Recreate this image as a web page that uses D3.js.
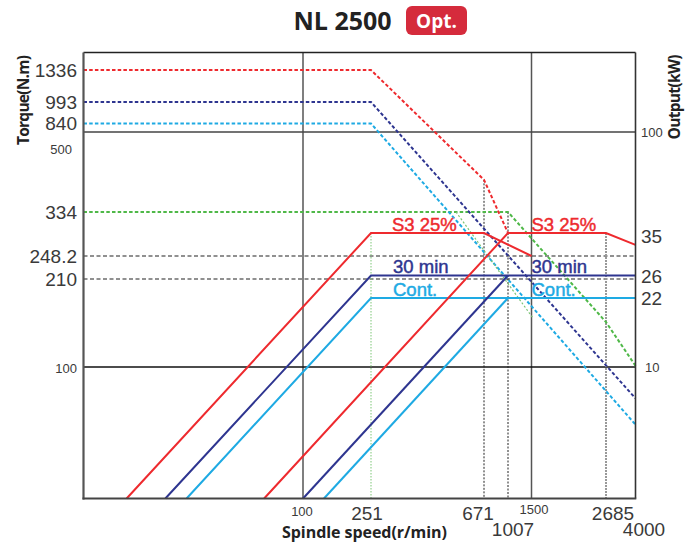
<!DOCTYPE html>
<html><head><meta charset="utf-8">
<script src="https://cdn.jsdelivr.net/npm/d3@7"></script>
<style>body{margin:0;background:#fff} svg{display:block}</style>
</head><body><svg id="c" width="696" height="542"></svg>
<script>
// ---------------- data ----------------
const titleText = "NL 2500";
const badgeText = "Opt.";
const speedTicks = [100, 251, 671, 1007, 1500, 2685, 4000];
const speedGrid = [100, 1500];
const torqueTicks = [1336, 993, 840, 334, 248.2, 210];
const torqueSmallTicks = [100];
const powerTicks = [35, 26, 22];
const powerSmallTicks = [100, 10];
const extraLeftLabel = "500";

// torque curves (speed r/min, torque N.m) - dashed
const torqueS3 = [[30, 1336], [251, 1336], [671, 467], [1007, 290]];
const torque30 = [[30, 993], [251, 993], [4000, 75]];
const torqueCont = [[30, 840], [251, 840], [4000, 59]];
const torqueHigh = [[30, 334], [1007, 334], [2685, 146], [4000, 101]];
const torqueHighThin = [[526, 334], [1518, 151]];
const torqueRef = [248.2, 210];

// power curves (speed r/min, power kW) - solid
const powerS3Low = [[38, 3], [251, 35], [671, 35], [1500, 29.8]];
const powerS3High = [[80.8, 3], [1007, 35], [2685, 35], [4000, 32.2]];
const power30Low = [[47, 3], [251, 26], [4000, 26]];
const power30High = [[100, 3], [1007, 26]];
const powerContLow = [[52.8, 3], [251, 22], [4000, 22]];
const powerContHigh = [[132.8, 3], [1007, 22]];

// drop lines (speed, value) down to the axis
const dropTorque = [[671, 467], [1007, 334]];
const dropPowerGray = [[2685, 35]];
const dropPowerGreen = [[251, 35]];

// curve labels
const curveLabels = [
  {text: "S3 25%", speed: 251, power: 35, cls: "red", shift: 21},
  {text: "S3 25%", speed: 1500, power: 35, cls: "red", shift: 0},
  {text: "30 min", speed: 251, power: 26, cls: "navy", shift: 22},
  {text: "30 min", speed: 1500, power: 26, cls: "navy", shift: 0},
  {text: "Cont.", speed: 251, power: 22, cls: "sky", shift: 22},
  {text: "Cont.", speed: 1500, power: 22, cls: "sky", shift: 0}
];

// ---------------- layout ----------------
const C = {red: "#ee2a2e", navy: "#2e3590", sky: "#1eaae3", green: "#4fb848", greenThin: "#7cc576"};
const P = {l: 83.5, r: 635.5, t: 52.5, b: 498.5};
const tickLayout = {
  100: {dx: -1, y: 515.5, size: 13},
  251: {dx: -4, y: 519.5, size: 19},
  671: {dx: -6, y: 519.5, size: 19},
  1007: {dx: 5, y: 536, size: 19},
  1500: {dx: 2.5, y: 513.5, size: 13},
  2685: {dx: 7, y: 519.5, size: 19},
  4000: {dx: 8.5, y: 536, size: 19}
};

const svg = d3.select("#c");
const x = d3.scaleLog().domain([30, 100, 251, 671, 1007, 1500, 2685, 4000])
  .range([P.l, 303, 371, 484, 508, 531.5, 606, P.r]);
const yT = d3.scaleLog().domain([30, 100, 210, 248.2, 334, 840, 993, 1336, 1560])
  .range([P.b, 367, 279, 256, 212, 123.5, 102, 70, P.t]);
const yP = d3.scaleLog().domain([3, 10, 22, 26, 35, 100, 200])
  .range([P.b, 367, 298, 275.5, 233, 132, P.t]);

const lineT = d3.line().x(d => x(d[0])).y(d => yT(d[1]));
const lineP = d3.line().x(d => x(d[0])).y(d => yP(d[1]));

const numFont = "'Liberation Sans', Arial, sans-serif";
const boldFont = "'Open Sans', 'Noto Sans', sans-serif";

// gridlines
const g = svg.append("g");
g.selectAll(".vg").data(speedGrid).join("line")
  .attr("x1", d => x(d)).attr("x2", d => x(d)).attr("y1", P.t).attr("y2", P.b)
  .attr("stroke", "#555").attr("stroke-width", 1.5);
g.append("line").attr("x1", P.l).attr("x2", P.r).attr("y1", yT(100)).attr("y2", yT(100))
  .attr("stroke", "#111").attr("stroke-width", 1.4);
g.append("line").attr("x1", P.l).attr("x2", P.r).attr("y1", yP(100)).attr("y2", yP(100))
  .attr("stroke", "#444").attr("stroke-width", 1.5);

// reference torque dashed lines
g.selectAll(".ref").data(torqueRef).join("line")
  .attr("x1", P.l).attr("x2", P.r).attr("y1", d => yT(d)).attr("y2", d => yT(d))
  .attr("stroke", "#222").attr("stroke-width", 1.2).attr("stroke-dasharray", "4,2.5");

// drop lines
g.selectAll(".dt").data(dropTorque).join("line")
  .attr("x1", d => x(d[0])).attr("x2", d => x(d[0])).attr("y1", d => yT(d[1])).attr("y2", P.b)
  .attr("stroke", "#222").attr("stroke-width", 1).attr("stroke-dasharray", "2,1.5");
g.selectAll(".dp").data(dropPowerGray).join("line")
  .attr("x1", d => x(d[0])).attr("x2", d => x(d[0])).attr("y1", d => yP(d[1])).attr("y2", P.b)
  .attr("stroke", "#999").attr("stroke-width", 2).attr("stroke-dasharray", "2,1");
g.selectAll(".dg").data(dropPowerGreen).join("line")
  .attr("x1", d => x(d[0])).attr("x2", d => x(d[0])).attr("y1", d => yP(d[1])).attr("y2", P.b)
  .attr("stroke", C.greenThin).attr("stroke-width", 1).attr("stroke-dasharray", "1.5,1.5");

// torque curves
const tc = svg.append("g").attr("fill", "none");
[[torqueHigh, C.green], [torqueCont, C.sky], [torque30, C.navy], [torqueS3, C.red]].forEach(([d, c]) => {
  tc.append("path").attr("d", lineT(d)).attr("stroke", c).attr("stroke-width", 2)
    .attr("stroke-dasharray", "3.5,2.2");
});
tc.append("path").attr("d", lineT(torqueHighThin)).attr("stroke", C.greenThin)
  .attr("stroke-width", 1.2).attr("stroke-dasharray", "2,2");

// power curves
const pc = svg.append("g").attr("fill", "none").attr("stroke-width", 2);
[[powerContLow, C.sky], [powerContHigh, C.sky], [power30Low, C.navy], [power30High, C.navy],
 [powerS3Low, C.red], [powerS3High, C.red]].forEach(([d, c]) => {
  pc.append("path").attr("d", lineP(d)).attr("stroke", c);
});

// frame
const fr = svg.append("g");
fr.append("line").attr("x1", P.l).attr("x2", P.r).attr("y1", P.t).attr("y2", P.t).attr("stroke", "#222").attr("stroke-width", 1.3);
fr.append("line").attr("x1", P.r).attr("x2", P.r).attr("y1", P.t).attr("y2", P.b).attr("stroke", "#333").attr("stroke-width", 1.6);
fr.append("line").attr("x1", P.l).attr("x2", P.l).attr("y1", P.t).attr("y2", P.b + 1).attr("stroke", "#555").attr("stroke-width", 2.2);
fr.append("line").attr("x1", P.l - 1).attr("x2", P.r + 0.8).attr("y1", P.b).attr("y2", P.b).attr("stroke", "#444").attr("stroke-width", 2.2);

// curve labels
const colorOf = {red: C.red, navy: C.navy, sky: C.sky};
svg.append("g").selectAll("text").data(curveLabels).join("text")
  .attr("x", d => x(d.speed) + d.shift).attr("y", d => yP(d.power) - 2.5)
  .attr("fill", d => colorOf[d.cls]).attr("stroke", d => colorOf[d.cls]).attr("stroke-width", 0.45)
  .attr("font-family", numFont).attr("font-size", 18.5)
  .text(d => d.text);

// left tick labels
const tl = svg.append("g").attr("font-family", numFont).attr("fill", "#3a3a3a");
tl.selectAll(".lt").data(torqueTicks).join("text")
  .attr("x", 77).attr("y", d => yT(d)).attr("dy", "0.36em").attr("text-anchor", "end")
  .attr("font-size", 19).text(d => d);
tl.selectAll(".ls").data(torqueSmallTicks).join("text")
  .attr("x", 77).attr("y", d => yT(d) + 1).attr("dy", "0.36em").attr("text-anchor", "end")
  .attr("font-size", 13).text(d => d);
tl.append("text").attr("x", 72).attr("y", yP(100) + 17).attr("dy", "0.36em").attr("text-anchor", "end")
  .attr("font-size", 13).text(extraLeftLabel);

// right tick labels
tl.selectAll(".rt").data(powerTicks).join("text")
  .attr("x", 641).attr("y", (d, i) => yP(d) + (i === 0 ? 3.5 : 0.5)).attr("dy", "0.36em")
  .attr("font-size", 19).text(d => d);
tl.selectAll(".rs").data(powerSmallTicks).join("text")
  .attr("x", d => d === 10 ? 645 : 641).attr("y", d => yP(d)).attr("dy", "0.36em")
  .attr("font-size", 13).text(d => d);

// bottom tick labels
tl.selectAll(".bt").data(speedTicks).join("text")
  .attr("x", d => x(d) + tickLayout[d].dx).attr("y", d => tickLayout[d].y)
  .attr("text-anchor", "middle").attr("font-size", d => tickLayout[d].size).text(d => d);

// axis titles
const at = svg.append("g").attr("font-family", boldFont).attr("font-weight", 700).attr("fill", "#222");
at.append("text").attr("x", 364.5).attr("y", 537.5).attr("text-anchor", "middle").attr("font-size", 16)
  .attr("textLength", 165).text("Spindle speed(r/min)");
at.append("text").attr("transform", "translate(29,100) rotate(-90)").attr("text-anchor", "middle")
  .attr("font-size", 15.5).attr("textLength", 90).text("Torque(N.m)");
at.append("text").attr("transform", "translate(680,97) rotate(-90)").attr("text-anchor", "middle")
  .attr("font-size", 15.5).attr("textLength", 85).text("Output(kW)");

// title
const tg = svg.append("g").attr("font-family", boldFont).attr("font-weight", 700);
tg.append("text").attr("x", 342.5).attr("y", 30).attr("text-anchor", "middle").attr("font-size", 25)
  .attr("fill", "#222").text(titleText);
tg.append("rect").attr("x", 406).attr("y", 6).attr("width", 61).attr("height", 29).attr("rx", 6)
  .attr("fill", "#d52b3c");
tg.append("text").attr("x", 436.5).attr("y", 28).attr("text-anchor", "middle").attr("font-size", 19)
  .attr("fill", "#fff").text(badgeText);
</script></body></html>
